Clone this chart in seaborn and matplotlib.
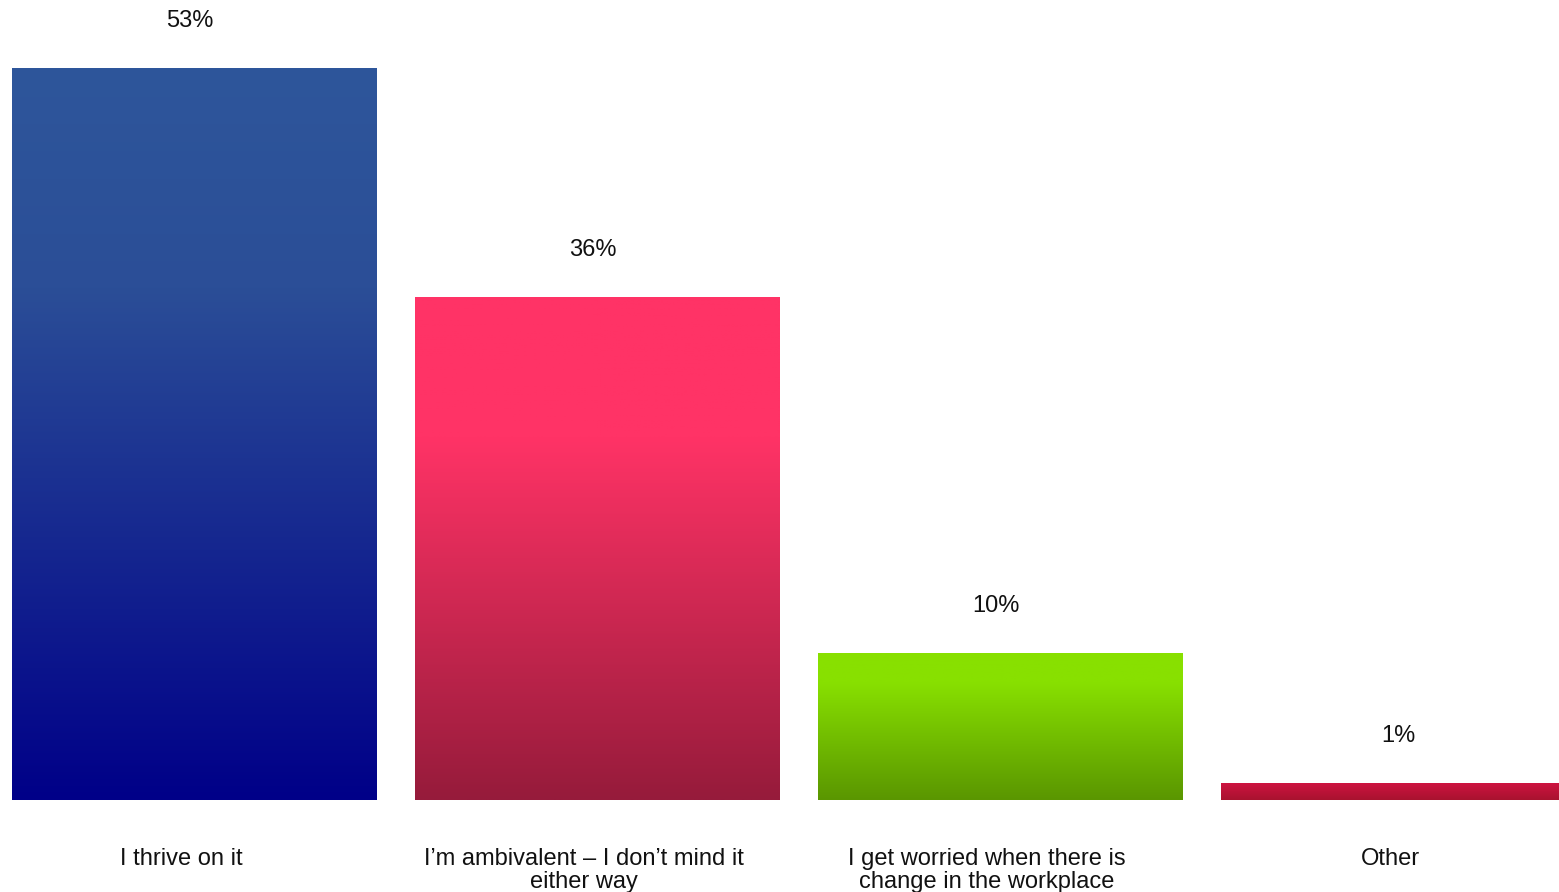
"""Bar chart: attitude to change in the workplace, gradient-filled bars."""
import matplotlib

matplotlib.use("Agg")
import matplotlib.pyplot as plt
import numpy as np
import pandas as pd
import seaborn as sns
from matplotlib.colors import LinearSegmentedColormap

categories = [
    "I thrive on it",
    "I\u2019m ambivalent \u2013 I don\u2019t mind it\neither way",
    "I get worried when there is\nchange in the workplace",
    "Other",
]
values = [53.0, 36.4, 10.6, 1.2]
value_labels = ["53%", "36%", "10%", "1%"]

# gradient stops per bar, top -> bottom
gradients = [
    [(0.0, "#2E569B"), (0.3, "#2B4E97"), (1.0, "#000088")],
    [(0.0, "#FF3366"), (0.28, "#FF3366"), (1.0, "#961B3B")],
    [(0.0, "#88E000"), (0.2, "#88E000"), (1.0, "#5A9600")],
    [(0.0, "#CE1440"), (1.0, "#A8122F")],
]

sns.set_theme(style="white")
plt.rcParams["font.family"] = ["Liberation Sans", "DejaVu Sans"]

df = pd.DataFrame({"category": categories, "value": values})

fig = plt.figure(figsize=(15.59, 8.92), dpi=100)
ax = fig.add_axes([0, 1 - 800 / 892, 1, 800 / 892])

bar_w = 0.905
sns.barplot(data=df, x="category", y="value", width=bar_w, color="white",
            saturation=1, ax=ax)

for patch, stops, lab in zip(ax.patches, gradients, value_labels):
    x0, y0 = patch.get_x(), patch.get_y()
    w, h = patch.get_width(), patch.get_height()
    cmap = LinearSegmentedColormap.from_list("g", stops)
    grad = np.linspace(0, 1, 256).reshape(-1, 1)
    ax.imshow(grad, cmap=cmap, extent=[x0, x0 + w, y0, y0 + h],
              aspect="auto", origin="upper", zorder=2)
    patch.set_visible(False)
    ax.annotate(lab, (x0 + w / 2 - 0.012, y0 + h), xytext=(0, 34),
                textcoords="offset points", ha="center", va="center",
                fontsize=17, color="#111111")

px = 403  # pixels per category step
left = -bar_w / 2 - 12 / px
ax.set_xlim(left, left + 1559 / px)
ax.set_ylim(0, 53 * 800 / 732)

ax.set_xticks([i - 0.033 for i in range(len(categories))])
ax.set_xticklabels(categories, fontsize=17, color="#111111", linespacing=1.08)
ax.tick_params(axis="x", length=0, pad=34.5)
ax.set_yticks([])
ax.set_xlabel("")
ax.set_ylabel("")
sns.despine(ax=ax, left=True, bottom=True)

fig.savefig("out.png", dpi=100)
plt.close(fig)
